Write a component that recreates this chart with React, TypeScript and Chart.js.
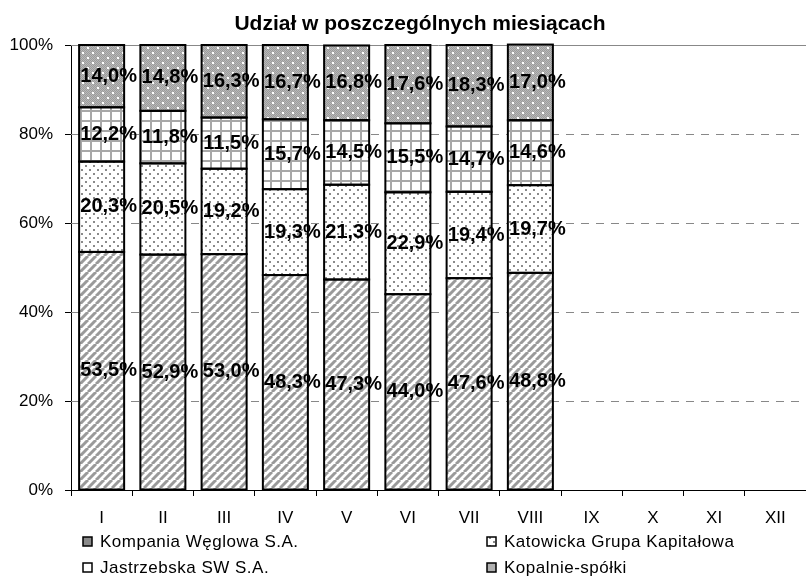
import React, { useEffect, useRef } from "react";
import { Chart, registerables } from "chart.js";

Chart.register(...registerables);

const months = ["I", "II", "III", "IV", "V", "VI", "VII", "VIII", "IX", "X", "XI", "XII"];
const kompania = [53.5, 52.9, 53.0, 48.3, 47.3, 44.0, 47.6, 48.8];
const katowicka = [20.3, 20.5, 19.2, 19.3, 21.3, 22.9, 19.4, 19.7];
const jastrzebska = [12.2, 11.8, 11.5, 15.7, 14.5, 15.5, 14.7, 14.6];
const kopalnie = [14.0, 14.8, 16.3, 16.7, 16.8, 17.6, 18.3, 17.0];
const seriesNames = [
  "Kompania Węglowa S.A.",
  "Katowicka Grupa Kapitałowa",
  "Jastrzebska SW S.A.",
  "Kopalnie-spółki",
];
const yTicks = [0, 20, 40, 60, 80, 100];
const chartTitle = "Udział w poszczególnych miesiącach";

const FONT = "Arial, 'Liberation Sans', sans-serif";

function makePattern(kind: string): CanvasPattern | string {
  const c = document.createElement("canvas");
  const ctx = c.getContext("2d")!;
  if (kind === "stripes") {
    c.width = 8; c.height = 8;
    ctx.fillStyle = "#fff"; ctx.fillRect(0, 0, 8, 8);
    ctx.strokeStyle = "#9a9a9a"; ctx.lineWidth = 3;
    for (const o of [-8, 0, 8]) {
      ctx.beginPath(); ctx.moveTo(o, 8); ctx.lineTo(o + 8, 0); ctx.stroke();
    }
  } else if (kind === "dots") {
    c.width = 8; c.height = 8;
    ctx.fillStyle = "#fff"; ctx.fillRect(0, 0, 8, 8);
    ctx.fillStyle = "#8a8a8a";
    ctx.fillRect(1, 1, 2, 2); ctx.fillRect(5, 5, 2, 2);
  } else if (kind === "grid") {
    c.width = 10; c.height = 10;
    ctx.fillStyle = "#fff"; ctx.fillRect(0, 0, 10, 10);
    ctx.fillStyle = "#a8a8a8";
    ctx.fillRect(0, 0, 2, 10); ctx.fillRect(0, 0, 10, 2);
  } else {
    c.width = 10; c.height = 10;
    ctx.fillStyle = "#b8b8b8"; ctx.fillRect(0, 0, 10, 10);
    ctx.fillStyle = "#9c9c9c";
    for (let y = 0; y < 10; y++) for (let x = (y % 2); x < 10; x += 2) ctx.fillRect(x, y, 1, 1);
    ctx.fillStyle = "#ffffff";
    ctx.fillRect(2, 2, 2, 2); ctx.fillRect(7, 7, 2, 2);
  }
  return ctx.createPattern(c, "repeat") || "#aaa";
}

export default function App() {
  const ref = useRef<HTMLCanvasElement>(null);
  useEffect(() => {
    document.body.style.margin = "0";
    const canvas = ref.current!;
    const patterns = [makePattern("stripes"), makePattern("dots"), makePattern("grid"), makePattern("dense")];
    const iconFills = ["#8a8a8a", patterns[1], "#ffffff", "#b0b0b0"];
    const seriesData = [kompania, katowicka, jastrzebska, kopalnie];

    const overlay = {
      id: "overlay",
      beforeDatasetsDraw(chart: any) {
        const { ctx, chartArea } = chart;
        const y = chart.scales.y;
        ctx.save();
        ctx.strokeStyle = "#888";
        ctx.lineWidth = 1;
        for (const t of yTicks) {
          if (t === 0) continue;
          const py = Math.round(y.getPixelForValue(t)) + 0.5;
          ctx.setLineDash(t === 100 ? [] : [8, 7]);
          ctx.beginPath(); ctx.moveTo(chartArea.left, py); ctx.lineTo(chartArea.right, py); ctx.stroke();
        }
        ctx.restore();
      },
      afterDatasetsDraw(chart: any) {
        const { ctx } = chart;
        ctx.save();
        ctx.strokeStyle = "#000";
        ctx.lineWidth = 2;
        chart.data.datasets.forEach((_: any, di: number) => {
          const meta = chart.getDatasetMeta(di);
          meta.data.forEach((el: any) => {
            const top = Math.min(el.y, el.base);
            const h = Math.abs(el.base - el.y);
            ctx.strokeRect(el.x - el.width / 2, top, el.width, h);
          });
        });
        ctx.fillStyle = "#000";
        ctx.font = `bold 20px ${FONT}`;
        ctx.textAlign = "center";
        ctx.textBaseline = "middle";
        chart.data.datasets.forEach((ds: any, di: number) => {
          const meta = chart.getDatasetMeta(di);
          meta.data.forEach((el: any, i: number) => {
            const v = ds.data[i];
            if (v == null) return;
            const txt = v.toFixed(1).replace(".", ",") + "%";
            ctx.fillText(txt, el.x + 7, (el.y + el.base) / 2);
          });
        });
        ctx.restore();
      },
      afterDraw(chart: any) {
        const { ctx } = chart;
        ctx.save();
        ctx.fillStyle = "#000";
        ctx.font = `bold 21px ${FONT}`;
        ctx.textAlign = "center";
        ctx.textBaseline = "middle";
        ctx.fillText(chartTitle, 420, 24);
        ctx.font = `17px ${FONT}`;
        (ctx as any).letterSpacing = "0.5px";
        ctx.textAlign = "left";
        const pos = [
          [83, 541], [487, 541], [83, 567], [487, 567],
        ];
        seriesNames.forEach((name, i) => {
          const [x, yy] = pos[i];
          ctx.fillStyle = iconFills[i] as any;
          ctx.fillRect(x, yy - 4, 9, 9);
          ctx.strokeStyle = "#000";
          ctx.lineWidth = 1.5;
          ctx.strokeRect(x, yy - 4, 9, 9);
          ctx.fillStyle = "#000";
          ctx.fillText(name, x + 17, yy + 1);
        });
        ctx.restore();
      },
    };

    const chart = new Chart(canvas, {
      type: "bar",
      data: {
        labels: months,
        datasets: seriesData.map((d, i) => ({
          label: seriesNames[i],
          data: d,
          backgroundColor: patterns[i] as any,
          borderWidth: 0,
          barPercentage: 0.735,
          categoryPercentage: 1,
        })),
      },
      options: {
        responsive: false,
        animation: false,
        layout: { padding: { top: 45, left: 0, right: 0, bottom: 0 } },
        plugins: { legend: { display: false }, title: { display: false }, tooltip: { enabled: false } },
        scales: {
          x: {
            stacked: true,
            offset: true,
            grid: { display: true, drawOnChartArea: false, drawTicks: true, tickLength: 6, color: "#000", offset: true },
            border: { color: "#000", width: 1 },
            ticks: { font: { family: FONT, size: 17 }, color: "#000", padding: 12, maxRotation: 0, autoSkip: false },
            afterFit: (s: any) => { s.height = 88; },
          },
          y: {
            stacked: true,
            min: 0,
            max: 100,
            afterBuildTicks: (s: any) => { s.ticks = yTicks.map((v) => ({ value: v })); },
            ticks: { font: { family: FONT, size: 17 }, color: "#000", padding: 12, callback: (v: any) => v + "%" },
            grid: { drawOnChartArea: false, drawTicks: true, tickLength: 6, color: "#000" },
            border: { color: "#000", width: 1 },
            afterFit: (s: any) => { s.width = 71; },
          },
        },
      },
      plugins: [overlay],
    });
    return () => chart.destroy();
  }, []);
  return (
    <div style={{ width: 806, height: 578 }}>
      <canvas ref={ref} width={806} height={578} style={{ display: "block" }} />
    </div>
  );
}
